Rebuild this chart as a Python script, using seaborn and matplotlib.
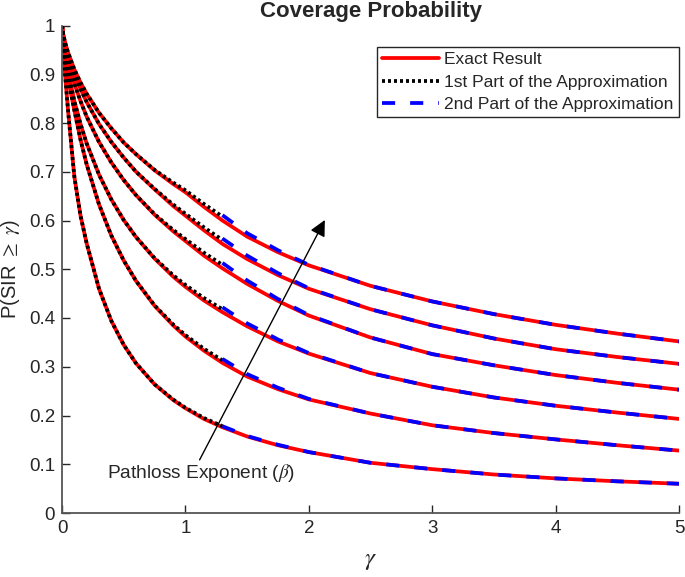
import numpy as np
import pandas as pd
import matplotlib
matplotlib.use('Agg')
import matplotlib.pyplot as plt
import seaborn as sns

# gamma grid
gamma = [0, 0.01, 0.025, 0.05, 0.1, 0.15, 0.2, 0.3, 0.4, 0.5, 0.6, 0.75, 0.9, 1.0,
         1.15, 1.3, 1.5, 1.75, 2.0, 2.5, 3.0, 3.5, 4.0, 4.5, 5.0]

# exact coverage probability, top curve (largest beta) to bottom curve
exact_1 = [1.0, 0.982, 0.965, 0.944, 0.910, 0.883, 0.860, 0.821, 0.789, 0.760, 0.736, 0.703, 0.675,
           0.658, 0.628, 0.600, 0.567, 0.535, 0.508, 0.466, 0.434, 0.408, 0.386, 0.368, 0.352]
exact_2 = [1.0, 0.981, 0.962, 0.938, 0.900, 0.870, 0.843, 0.798, 0.761, 0.729, 0.700, 0.664, 0.630,
           0.610, 0.580, 0.552, 0.521, 0.488, 0.460, 0.418, 0.385, 0.358, 0.336, 0.320, 0.306]
exact_3 = [1.0, 0.978, 0.956, 0.927, 0.881, 0.845, 0.813, 0.761, 0.719, 0.683, 0.652, 0.612, 0.578,
           0.558, 0.528, 0.502, 0.470, 0.435, 0.405, 0.360, 0.326, 0.303, 0.283, 0.267, 0.253]
exact_4 = [1.0, 0.974, 0.943, 0.905, 0.845, 0.798, 0.758, 0.694, 0.643, 0.601, 0.566, 0.522, 0.485,
           0.464, 0.436, 0.412, 0.383, 0.352, 0.327, 0.287, 0.259, 0.237, 0.220, 0.206, 0.193]
exact_5 = [1.0, 0.966, 0.930, 0.890, 0.826, 0.766, 0.715, 0.633, 0.569, 0.518, 0.476, 0.425, 0.385,
           0.362, 0.333, 0.308, 0.280, 0.254, 0.233, 0.204, 0.180, 0.164, 0.151, 0.139, 0.128]
exact_6 = [1.0, 0.955, 0.899, 0.823, 0.690, 0.610, 0.553, 0.460, 0.394, 0.345, 0.307, 0.264, 0.232,
           0.215, 0.193, 0.176, 0.157, 0.139, 0.125, 0.103, 0.090, 0.079, 0.071, 0.065, 0.060]

# where the approximations part from the exact curve
tail_gamma = [0.75, 0.9, 1.0, 1.15, 1.3]   # end of 1st part
head_gamma = [1.3, 1.5, 1.75, 2.0]         # start of 2nd part

first_tail_1 = [0.704, 0.678, 0.662, 0.634, 0.608]
first_tail_2 = [0.665, 0.633, 0.614, 0.586, 0.560]
first_tail_3 = [0.613, 0.581, 0.562, 0.534, 0.509]
first_tail_4 = [0.523, 0.488, 0.468, 0.441, 0.418]
first_tail_5 = [0.426, 0.387, 0.365, 0.337, 0.313]
first_tail_6 = [0.264, 0.233, 0.216, 0.195, 0.178]

second_head_1 = [0.611, 0.574, 0.539, 0.509]
second_head_2 = [0.563, 0.528, 0.492, 0.461]
second_head_3 = [0.513, 0.477, 0.439, 0.406]
second_head_4 = [0.422, 0.389, 0.356, 0.328]
second_head_5 = [0.316, 0.285, 0.257, 0.234]
second_head_6 = [0.178, 0.158, 0.140, 0.125]

exact_curves = [exact_1, exact_2, exact_3, exact_4, exact_5, exact_6]
first_tails = [first_tail_1, first_tail_2, first_tail_3, first_tail_4, first_tail_5, first_tail_6]
second_heads = [second_head_1, second_head_2, second_head_3, second_head_4, second_head_5, second_head_6]

x_ticks = [0, 1, 2, 3, 4, 5]
x_tick_labels = ['0', '1', '2', '3', '4', '5']
y_ticks = [0, 0.1, 0.2, 0.3, 0.4, 0.5, 0.6, 0.7, 0.8, 0.9, 1.0]
y_tick_labels = ['0', '0.1', '0.2', '0.3', '0.4', '0.5', '0.6', '0.7', '0.8', '0.9', '1']

sns.set_style('ticks')
plt.rcParams['font.family'] = ['Liberation Sans', 'DejaVu Sans']
plt.rcParams['mathtext.fontset'] = 'stix'

fig = plt.figure(figsize=(6.85, 5.77), dpi=100)
ax = fig.add_axes([62 / 685, 1 - 513 / 577, (679 - 62) / 685, (513 - 25.5) / 577])

n_pre = sum(1 for g in gamma if g < tail_gamma[0])
n_post = sum(1 for g in gamma if g <= head_gamma[-1])
lw = 2.7

for i in range(6):
    ex = exact_curves[i]
    df = pd.DataFrame({'gamma': gamma, 'p': ex})
    sns.lineplot(data=df, x='gamma', y='p', ax=ax, color='#ff0000', lw=lw,
                 estimator=None, sort=False, label='Exact Result' if i == 0 else None)

for i in range(6):
    ex = exact_curves[i]
    df1 = pd.DataFrame({'gamma': gamma[:n_pre] + tail_gamma, 'p': ex[:n_pre] + first_tails[i]})
    sns.lineplot(data=df1, x='gamma', y='p', ax=ax, color='black', lw=lw,
                 linestyle=(0, (0.8, 0.8)), estimator=None, sort=False,
                 label='1st Part of the Approximation' if i == 0 else None)
    df2 = pd.DataFrame({'gamma': head_gamma + gamma[n_post:], 'p': second_heads[i] + ex[n_post:]})
    sns.lineplot(data=df2, x='gamma', y='p', ax=ax, color='#0000ff', lw=lw,
                 linestyle=(0, (3.5, 4.0)), estimator=None, sort=False,
                 label='2nd Part of the Approximation' if i == 0 else None)

ax.set_xlim(0, 5)
ax.set_ylim(0, 1)
ax.set_xticks(x_ticks)
ax.set_xticklabels(x_tick_labels)
ax.set_yticks(y_ticks)
ax.set_yticklabels(y_tick_labels)
ax.tick_params(direction='in', length=6, width=1.0, labelsize=13.5, colors='#262626', pad=5)
for s in ['top', 'right']:
    ax.spines[s].set_visible(False)
for s in ['left', 'bottom']:
    ax.spines[s].set_color('#555555')
    ax.spines[s].set_linewidth(1.3)

ax.set_xlabel(r'$\gamma$', fontsize=18, labelpad=8)
ax.set_ylabel(r'P(SIR $\geq$ $\gamma$)', fontsize=14.5, labelpad=5)
fig.text(370.5 / 685, 1 - 12 / 577, 'Coverage Probability', ha='center', va='center',
         fontsize=16, fontweight='bold')

ax.annotate('', xy=(2.13, 0.601), xytext=(1.115, 0.109),
            arrowprops=dict(arrowstyle='-|>', color='black', lw=1.0, mutation_scale=24,
                            shrinkA=0, shrinkB=0))
ax.text(1.13, 0.082, r'Pathloss Exponent ($\beta$)', ha='center', va='center', fontsize=13.8)

handles, labels = ax.get_legend_handles_labels()
leg = ax.legend(handles, labels, loc='upper right', bbox_to_anchor=(1.0, 0.956),
                borderaxespad=0, fontsize=12.5, frameon=True, fancybox=False, framealpha=1,
                edgecolor='#262626', handlelength=3.3, handletextpad=0.3, labelspacing=0.42,
                borderpad=0.3)
leg.get_frame().set_linewidth(1.0)

fig.savefig('out.png', dpi=100)
